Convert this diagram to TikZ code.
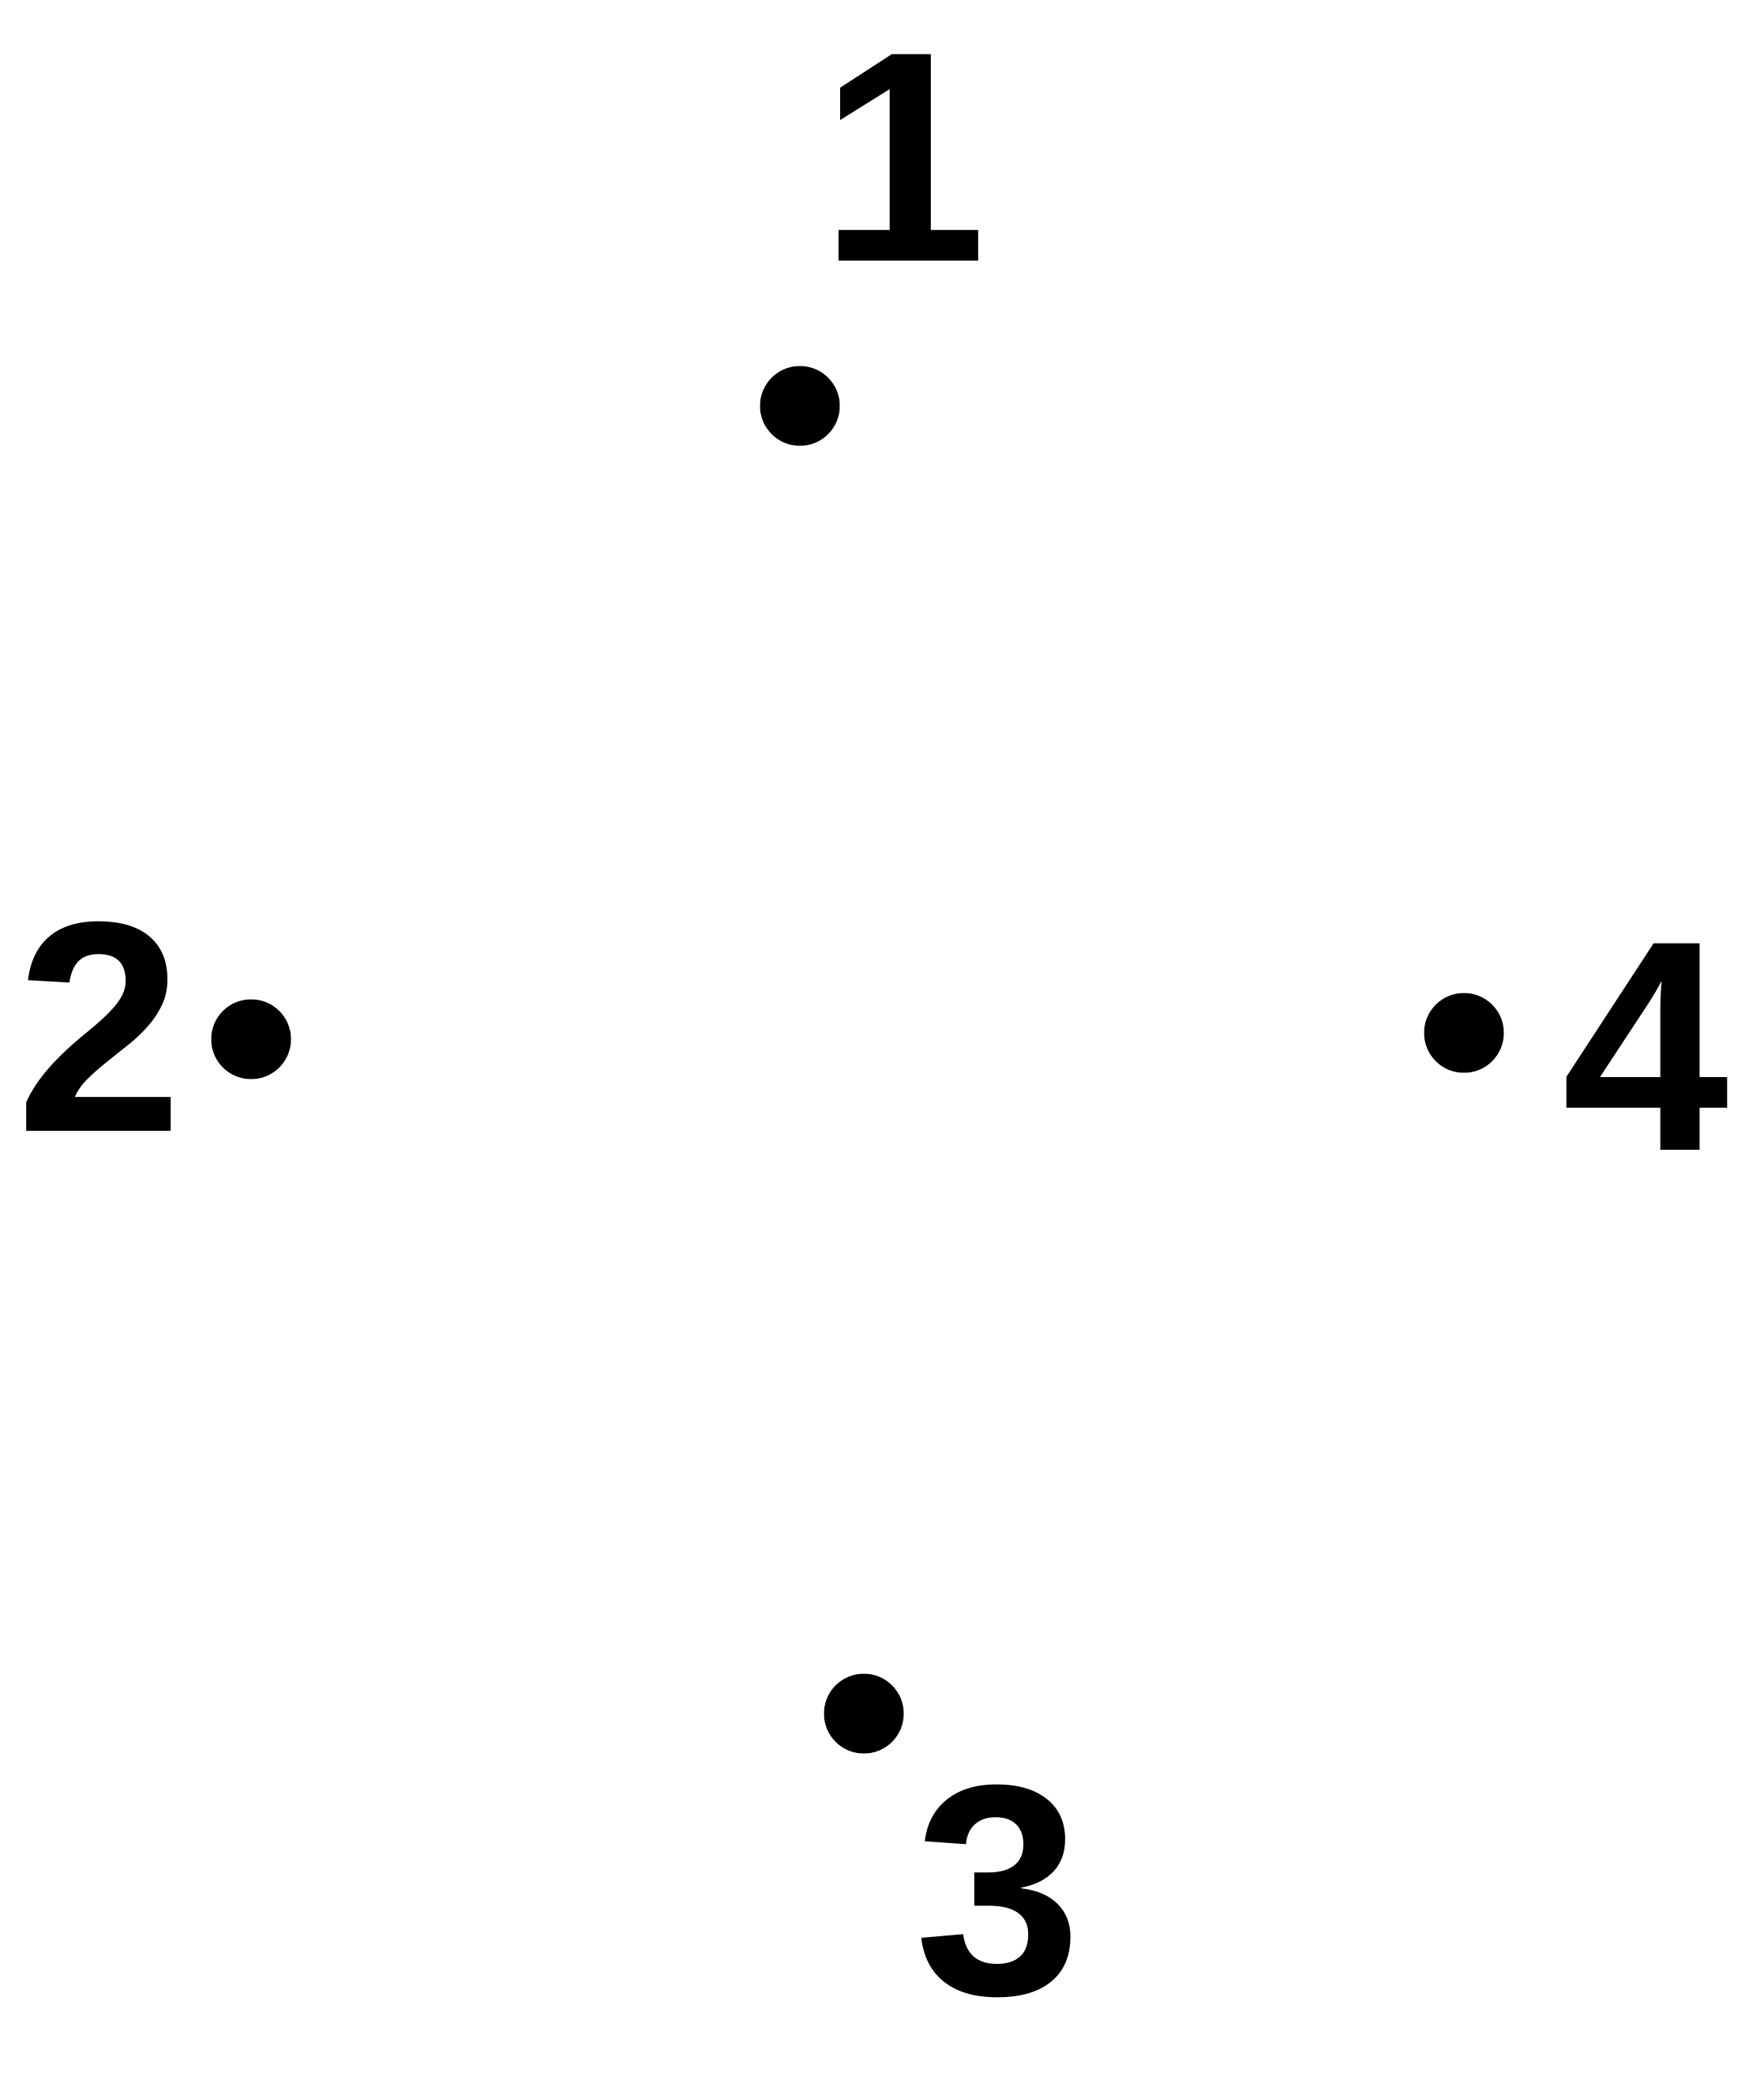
\documentclass[tikz,border=0pt]{standalone}
\usepackage{fontspec}
\setmainfont{Liberation Sans}
\begin{document}
\begin{tikzpicture}[
  x=1pt,
  y=1pt,
  dot/.style={circle, fill=black, inner sep=0pt, minimum size=10.1pt},
  numlabel/.style={inner sep=0pt, font=\fontsize{38}{40}\selectfont\bfseries}
]
  % Page frame: 2233 x 2653 px at 0.1pt per px.
  \useasboundingbox (0,0) rectangle (223.3,-265.3);

  % Points.
  \node[dot] (p1) at (101.3,-51.4) {};
  \node[dot] (p2) at (31.8,-131.6) {};
  \node[dot] (p3) at (109.4,-217.0) {};
  \node[dot] (p4) at (185.4,-130.8) {};

  % Labels.
  \node[numlabel] (l1) at (114.4,-19.95) {1};
  \node[numlabel] (l2) at (12.6,-129.95) {2};
  \node[numlabel] (l3) at (126.45,-239.45) {3};
  \node[numlabel] (l4) at (208.4,-132.55) {4};
\end{tikzpicture}
\end{document}
